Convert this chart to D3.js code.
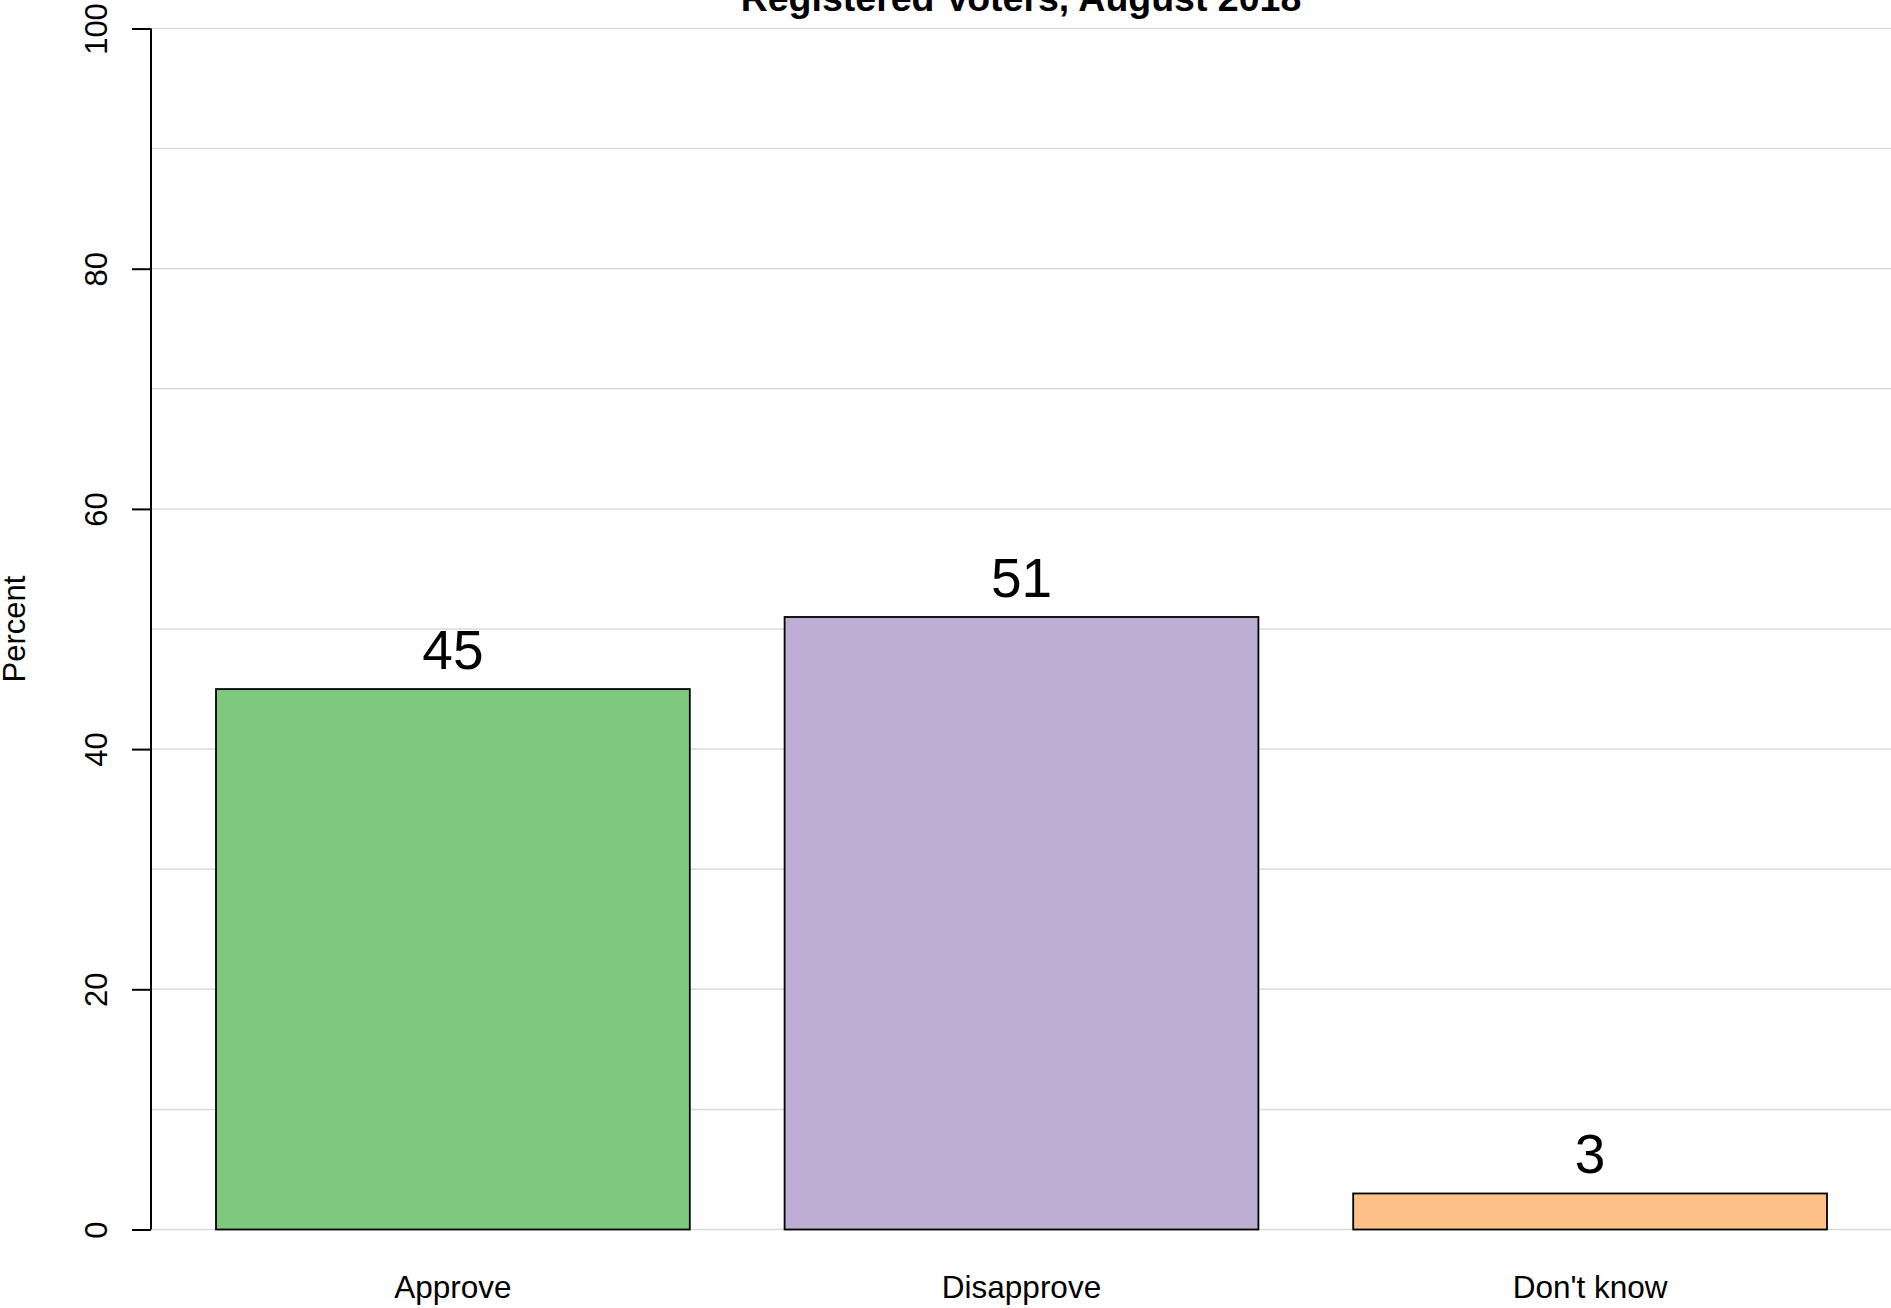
<!DOCTYPE html>
<html>
<head>
<meta charset="utf-8">
<script src="https://cdn.jsdelivr.net/npm/d3@7"></script>
<style>
  html, body { margin: 0; padding: 0; background: #fff; }
  svg { display: block; font-family: "Liberation Sans", Arial, Helvetica, sans-serif; }
</style>
</head>
<body>
<script>
const categories = ["Approve", "Disapprove", "Don't know"];
const values = [45, 51, 3];
const colors = ["#7FC97F", "#BEAED4", "#FDC086"];
const yTicks = [0, 20, 40, 60, 80, 100];
const gridValues = [0, 10, 20, 30, 40, 50, 60, 70, 80, 90, 100];
const titleText = "Registered Voters, August 2018";
const yLabel = "Percent";

const W = 1891, H = 1308;
const svg = d3.select("body").append("svg").attr("width", W).attr("height", H);

const plotLeft = 151, plotRight = 1891;
const y = d3.scaleLinear().domain([0, 100]).range([1229.5, 28.5]);
const x = d3.scaleBand().domain(categories).range([216, 1827]).paddingInner(0.1667).paddingOuter(0);

// gridlines
svg.append("g").selectAll("line").data(gridValues).join("line")
  .attr("x1", plotLeft).attr("x2", plotRight)
  .attr("y1", d => y(d)).attr("y2", d => y(d))
  .attr("stroke", "#dadada").attr("stroke-width", 1.5);

// bars
svg.append("g").selectAll("rect").data(values).join("rect")
  .attr("x", (d, i) => x(categories[i]))
  .attr("width", x.bandwidth())
  .attr("y", d => y(d))
  .attr("height", d => y(0) - y(d))
  .attr("fill", (d, i) => colors[i])
  .attr("stroke", "#000").attr("stroke-width", 1.8);

// value labels
svg.append("g").selectAll("text").data(values).join("text")
  .attr("x", (d, i) => x(categories[i]) + x.bandwidth() / 2)
  .attr("y", d => y(d) - 20)
  .attr("text-anchor", "middle")
  .attr("font-size", 55)
  .attr("fill", "#000")
  .text(d => d);

// y axis
const yAxis = d3.axisLeft(y).tickValues(yTicks).tickSize(19).tickPadding(0).tickFormat(d3.format("d"));
const gy = svg.append("g").attr("transform", `translate(${plotLeft},0)`).call(yAxis);
gy.select(".domain").attr("stroke", "#000").attr("stroke-width", 2).attr("d", `M0,${y(100)}V${y(0)}`);
gy.selectAll(".tick line").attr("stroke", "#000").attr("stroke-width", 2);
gy.selectAll(".tick text")
  .attr("x", null).attr("dy", null)
  .attr("transform", "translate(-44,0) rotate(-90)")
  .attr("text-anchor", "middle")
  .attr("font-size", 31)
  .attr("font-family", "'Liberation Sans', Arial, sans-serif")
  .attr("fill", "#000");

// x labels
svg.append("g").selectAll("text").data(categories).join("text")
  .attr("x", d => x(d) + x.bandwidth() / 2)
  .attr("y", 1298)
  .attr("text-anchor", "middle")
  .attr("font-size", 31.5)
  .attr("fill", "#000")
  .text(d => d);

// y label
svg.append("text")
  .attr("transform", `translate(25,${(y(0) + y(100)) / 2}) rotate(-90)`)
  .attr("text-anchor", "middle")
  .attr("font-size", 31)
  .attr("fill", "#000")
  .text(yLabel);

// title
svg.append("text")
  .attr("x", (plotLeft + plotRight) / 2)
  .attr("y", 11)
  .attr("text-anchor", "middle")
  .attr("font-size", 37.5)
  .attr("font-weight", "bold")
  .attr("fill", "#000")
  .text(titleText);
</script>
</body>
</html>
